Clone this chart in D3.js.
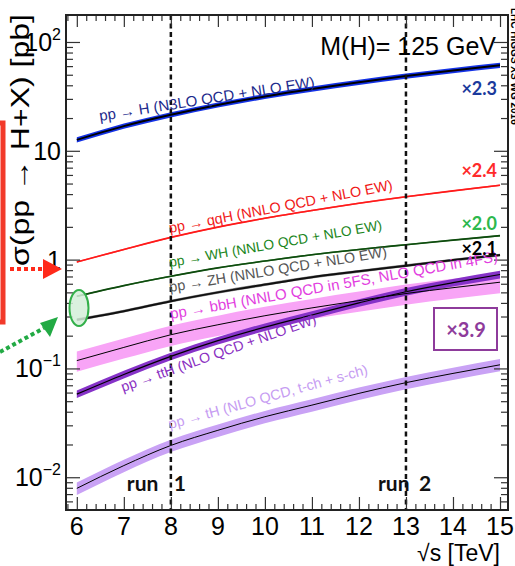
<!DOCTYPE html>
<html>
<head>
<meta charset="utf-8">
<script src="https://cdn.jsdelivr.net/npm/d3@7"></script>
<style>
    body {margin: 0; background: #fff}
    svg {display: block}
    text {font-family: "Liberation Sans Narrow", "Liberation Sans", Arial, sans-serif}
    .gill {font-family: Lato, "Open Sans", sans-serif; font-weight: bold}
</style>
</head>
<body>
<svg id="chart" width="515" height="566"></svg>
<script>
// sqrt(s) in TeV and cross sections in pb, M(H) = 125 GeV
const sqrtS = [6, 7, 8, 9, 10, 11, 12, 13, 14, 15]
const ggH = [12.6, 16.85, 21.42, 26.4, 31.6, 37.0, 42.6, 48.6, 54.7, 61.0]
const qqH = [0.95, 1.24, 1.60, 1.99, 2.40, 2.83, 3.30, 3.78, 4.28, 4.82]
const WH = [0.46, 0.577, 0.703, 0.84, 0.97, 1.11, 1.24, 1.37, 1.51, 1.66]
const ZH = [0.28, 0.336, 0.415, 0.50, 0.59, 0.69, 0.78, 0.88, 0.99, 1.10]
const bbH = [0.118, 0.156, 0.204, 0.252, 0.305, 0.36, 0.42, 0.488, 0.552, 0.62]
const ttH = [0.058, 0.088, 0.129, 0.18, 0.24, 0.31, 0.40, 0.507, 0.614, 0.73]
const tH = [0.0079, 0.0128, 0.0196, 0.027, 0.036, 0.046, 0.059, 0.074, 0.090, 0.108]

// relative size of the uncertainty band of each process
const relUnc = [0.055, 0.015, 0.015, 0.03, 0.21, 0.08, 0.13]

const labelTexts = [
    "pp → H (N3LO QCD + NLO EW)",
    "pp → qqH (NNLO QCD + NLO EW)",
    "pp → WH (NNLO QCD + NLO EW)",
    "pp → ZH (NNLO QCD + NLO EW)",
    "pp → bbH (NNLO QCD in 5FS, NLO QCD in 4FS)",
    "pp → ttH (NLO QCD + NLO EW)",
    "pp → tH (NLO QCD, t-ch + s-ch)"
]
const factorTexts = ["×2.3", "×2.4", "×2.0", "×2.1"]
const boxedFactor = "×3.9"
const runEnergies = [8, 13]
const runNumbers = ["1", "2"]
const xTicks = [6, 7, 8, 9, 10, 11, 12, 13, 14, 15]
const yTicks = [0.01, 0.1, 1, 10, 100]
const yTickExp = ["−2", "−1", "", "", "2"]

const seriesValues = [ggH, qqH, WH, ZH, bbH, ttH, tH]
const bandColors = ["#1432e6", "#ff5050", "#3a8a3a", "#8a8a8a", "#f8a4f6", "#8632c8", "#c9a2f5"]
const lineColors = ["#000", "#ff1a1a", "#0e4a0e", "#111", "#000", "#000", "#000"]
const lineWidths = [2, 1.6, 1.6, 2, 1, 1.2, 1]
const labelColors = ["#1c2a8c", "#f01818", "#1b861b", "#555", "#e23ee0", "#8a2fc2", "#c69cf2"]
const labelPos = [[100, 121, -9], [170, 233, -11], [170, 267, -10], [170, 292, -9.3], [171, 319, -10], [123, 392, -19.5], [170, 429, -15.5]]
const labelSizes = [15, 14.4, 13.8, 14.4, 15, 14.2, 14.3]
const factorColors = ["#1b3a9c", "#ff2a2a", "#2db84d", "#000"]
const factorY = [95, 177, 230, 255]
const runWordShift = [-44, -28]
const runNumberShift = [3, 13]

let svg = d3.select("#chart"),
    plotLeft = 66, plotRight = 508, plotTop = 15, plotBottom = 510,
    x = d3.scaleLinear().domain([5.77, 15.17]).range([plotLeft, plotRight]),
    y = d3.scaleLog().domain([0.005, 177]).range([plotBottom, plotTop])

svg.append("defs").append("clipPath").attr("id", "plot-clip")
    .append("rect")
    .attr("x", plotLeft).attr("y", plotTop)
    .attr("width", plotRight - plotLeft).attr("height", plotBottom - plotTop)

let plot = svg.append("g").attr("clip-path", "url(#plot-clip)")

// bands first, then central lines
seriesValues.forEach((values, i) => {
    let rows = sqrtS.map((s, j) => ({s: s, v: values[j]}))
    plot.append("path")
        .datum(rows)
        .attr("d", d3.area()
            .x(d => x(d.s))
            .y0(d => y(d.v * (1 - relUnc[i])))
            .y1(d => y(d.v * (1 + relUnc[i])))
            .curve(d3.curveMonotoneX))
        .style("fill", bandColors[i])
        .style("stroke", "none")
})

seriesValues.forEach((values, i) => {
    let rows = sqrtS.map((s, j) => ({s: s, v: values[j]}))
    plot.append("path")
        .datum(rows)
        .attr("d", d3.line().x(d => x(d.s)).y(d => y(d.v)).curve(d3.curveMonotoneX))
        .style("fill", "none")
        .style("stroke", lineColors[i])
        .style("stroke-width", lineWidths[i])
})

// run 1 / run 2 dashed lines
plot.selectAll("line.run")
    .data(runEnergies)
    .join("line")
    .attr("class", "run")
    .attr("x1", d => x(d)).attr("x2", d => x(d))
    .attr("y1", plotTop).attr("y2", plotBottom)
    .style("stroke", "#111")
    .style("stroke-width", 2.5)
    .style("stroke-dasharray", "5,3.5")

// axes
let xMinor = d3.range(58, 152, 2).map(v => v / 10).filter(v => v % 1 !== 0),
    yMinor = []
d3.range(-3, 3).forEach(e => d3.range(2, 10).forEach(k => {
    let v = k * Math.pow(10, e)
    if (v > 0.005 && v < 177) yMinor.push(v)
}))

let axes = [
    [() => d3.axisTop(x), `translate(0,${plotBottom})`, xTicks, xMinor, 13, 6],
    [() => d3.axisBottom(x), `translate(0,${plotTop})`, xTicks, xMinor, 12, 6],
    [() => d3.axisRight(y), `translate(${plotLeft},0)`, yTicks, yMinor, 14, 7],
    [() => d3.axisLeft(y), `translate(${plotRight},0)`, yTicks, yMinor, 14, 7]
]
axes.forEach(([makeAxis, transform, major, minor, bigSize, smallSize]) => {
    svg.append("g").attr("transform", transform)
        .call(makeAxis().tickValues(major).tickSize(bigSize).tickFormat(""))
        .call(g => g.select(".domain").remove())
    svg.append("g").attr("transform", transform)
        .call(makeAxis().tickValues(minor).tickSize(smallSize).tickFormat(""))
        .call(g => g.select(".domain").remove())
})
svg.selectAll(".tick line").style("stroke", "#333").style("stroke-width", 1.2)

svg.append("rect")
    .attr("x", plotLeft).attr("y", plotTop)
    .attr("width", plotRight - plotLeft).attr("height", plotBottom - plotTop)
    .style("fill", "none")
    .style("stroke", "#222")
    .style("stroke-width", 2)

svg.selectAll("text.xtick")
    .data(xTicks)
    .join("text")
    .attr("class", "xtick")
    .attr("x", d => x(d))
    .attr("y", 535)
    .attr("text-anchor", "middle")
    .style("font-size", "25px")
    .text(d => d)

let yLabels = svg.selectAll("text.ytick")
    .data(yTicks)
    .join("text")
    .attr("class", "ytick")
    .attr("x", 61)
    .attr("y", d => y(d) + 9)
    .attr("text-anchor", "end")
    .style("font-size", "25px")
yLabels.append("tspan").text(d => d < 1 || d > 10 ? "10" : d)
yLabels.append("tspan")
    .attr("dy", -11)
    .style("font-size", "16px")
    .text((d, i) => yTickExp[i])

svg.append("text")
    .attr("x", 500).attr("y", 561)
    .attr("text-anchor", "end")
    .style("font-size", "23px")
    .text("√s [TeV]")

svg.append("text")
    .attr("transform", "translate(29,14) rotate(-90)")
    .attr("text-anchor", "end")
    .attr("textLength", 252)
    .attr("lengthAdjust", "spacingAndGlyphs")
    .style("font-size", "26px")
    .text("σ(pp → H+X) [pb]")

svg.append("text")
    .attr("x", 496).attr("y", 55)
    .attr("text-anchor", "end")
    .style("font-size", "25px")
    .text("M(H)= 125 GeV")

svg.append("text")
    .attr("transform", "translate(511,8) rotate(90)")
    .style("font-size", "10px")
    .style("font-weight", "bold")
    .text("LHC HIGGS XS WG 2016")

// curve labels
svg.selectAll("text.curve-label")
    .data(labelTexts)
    .join("text")
    .attr("class", "curve-label")
    .attr("transform", (d, i) => `translate(${labelPos[i][0]},${labelPos[i][1]}) rotate(${labelPos[i][2]})`)
    .style("font-size", (d, i) => labelSizes[i] + "px")
    .style("fill", (d, i) => labelColors[i])
    .text(d => d)

// scale factors at 14 TeV
svg.selectAll("text.factor")
    .data(factorTexts)
    .join("text")
    .attr("class", "factor gill")
    .attr("x", 497)
    .attr("y", (d, i) => factorY[i])
    .attr("text-anchor", "end")
    .style("font-size", "18px")
    .style("fill", (d, i) => factorColors[i])
    .text(d => d)

svg.append("rect")
    .attr("x", 434).attr("y", 308)
    .attr("width", 63).attr("height", 42)
    .style("fill", "none")
    .style("stroke", "#8e3b9b")
    .style("stroke-width", 2)
svg.append("text")
    .attr("class", "gill")
    .attr("x", 466).attr("y", 337)
    .attr("text-anchor", "middle")
    .style("font-size", "20px")
    .style("fill", "#8e3b9b")
    .text(boxedFactor)

// "run" word and number placed around the dashed lines
let runText = svg.selectAll("text.run-label")
    .data(runEnergies)
    .join("text")
    .attr("class", "run-label gill")
    .attr("y", 491)
    .style("font-size", "21px")
    .style("fill", "#111")
runText.append("tspan")
    .attr("x", (d, i) => x(d) + runWordShift[i])
    .text("run")
runText.append("tspan")
    .attr("x", (d, i) => x(d) + runNumberShift[i])
    .text((d, i) => runNumbers[i])

// annotations on the left edge
svg.append("rect")
    .attr("x", -200).attr("y", 123)
    .attr("width", 203).attr("height", 199)
    .style("fill", "none")
    .style("stroke", "#f23a2a")
    .style("stroke-width", 5)

svg.append("line")
    .attr("x1", 10).attr("y1", 269).attr("x2", 44).attr("y2", 269)
    .style("stroke", "#ff2a1a")
    .style("stroke-width", 4)
    .style("stroke-dasharray", "4,3")
svg.append("path")
    .attr("d", "M43,259 L43,279 L62,269 Z")
    .style("fill", "#ff2a1a")

svg.append("line")
    .attr("x1", 0).attr("y1", 352).attr("x2", 44).attr("y2", 328)
    .style("stroke", "#22aa44")
    .style("stroke-width", 4)
    .style("stroke-dasharray", "4,3")
svg.append("path")
    .attr("d", "M40,323 L50,337 L58,317 Z")
    .style("fill", "#22aa44")

svg.append("ellipse")
    .attr("cx", 79).attr("cy", 308)
    .attr("rx", 9.5).attr("ry", 18)
    .style("fill", "#d4efd9")
    .style("fill-opacity", 0.85)
    .style("stroke", "#33b04a")
    .style("stroke-width", 2)
</script>
</body>
</html>
